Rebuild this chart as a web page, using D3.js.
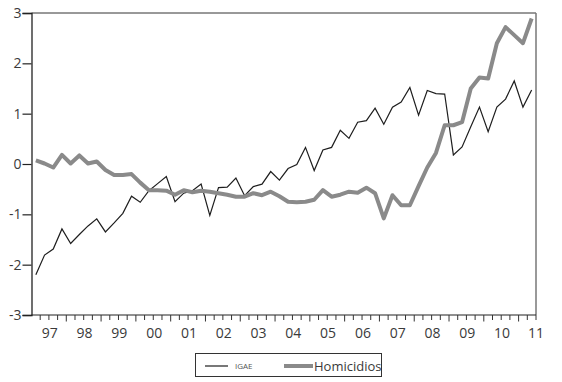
<!DOCTYPE html>
<html><head><meta charset="utf-8">
<script src="https://cdn.jsdelivr.net/npm/d3@7"></script>
<style>body{margin:0;background:#fff}</style></head>
<body><svg id="c" width="562" height="382"></svg>
<script>
const quarters = ["1997Q1","1997Q2","1997Q3","1997Q4","1998Q1","1998Q2","1998Q3","1998Q4",
"1999Q1","1999Q2","1999Q3","1999Q4","2000Q1","2000Q2","2000Q3","2000Q4",
"2001Q1","2001Q2","2001Q3","2001Q4","2002Q1","2002Q2","2002Q3","2002Q4",
"2003Q1","2003Q2","2003Q3","2003Q4","2004Q1","2004Q2","2004Q3","2004Q4",
"2005Q1","2005Q2","2005Q3","2005Q4","2006Q1","2006Q2","2006Q3","2006Q4",
"2007Q1","2007Q2","2007Q3","2007Q4","2008Q1","2008Q2","2008Q3","2008Q4",
"2009Q1","2009Q2","2009Q3","2009Q4","2010Q1","2010Q2","2010Q3","2010Q4",
"2011Q1","2011Q2"];
const igae = [-2.20,-1.81,-1.69,-1.29,-1.58,-1.40,-1.23,-1.09,-1.35,-1.17,-0.98,-0.64,-0.76,-0.53,-0.39,-0.25,
-0.75,-0.58,-0.53,-0.40,-1.02,-0.47,-0.46,-0.28,-0.63,-0.45,-0.40,-0.15,-0.32,-0.09,-0.01,0.33,
-0.13,0.28,0.33,0.67,0.51,0.83,0.86,1.11,0.79,1.13,1.23,1.52,0.97,1.46,1.40,1.39,
0.18,0.34,0.74,1.13,0.64,1.13,1.29,1.65,1.13,1.47];
const homicidios = [0.07,0.01,-0.07,0.18,0.01,0.17,0.01,0.05,-0.12,-0.22,-0.22,-0.20,-0.37,-0.52,-0.52,-0.53,
-0.61,-0.52,-0.56,-0.53,-0.55,-0.58,-0.61,-0.65,-0.65,-0.58,-0.62,-0.55,-0.64,-0.75,-0.76,-0.75,
-0.71,-0.52,-0.65,-0.61,-0.55,-0.57,-0.47,-0.58,-1.08,-0.62,-0.82,-0.82,-0.44,-0.07,0.22,0.77,
0.77,0.83,1.50,1.72,1.70,2.40,2.72,2.56,2.40,2.89];
const yTicks = [-3,-2,-1,0,1,2,3];
const yearLabels = ["97","98","99","00","01","02","03","04","05","06","07","08","09","10","11"];
const seriesNames = ["IGAE","Homicidios"];

const svg = d3.select("#c");
const L = 31.5, R = 536, T = 13, B = 315;
const x = d3.scaleLinear().domain([0, quarters.length]).range([L, R]);
const y = d3.scaleLinear().domain([-3, 3]).range([B, T]);
const font = "'Open Sans', sans-serif";

// frame top and right
svg.append("line").attr("x1", L).attr("x2", R).attr("y1", T).attr("y2", T)
  .attr("stroke", "#333").attr("stroke-width", 1);
svg.append("line").attr("x1", R).attr("x2", R).attr("y1", T).attr("y2", B)
  .attr("stroke", "#777").attr("stroke-width", 1.5);

// y axis
const ya = svg.append("g").attr("transform", `translate(${L},0)`)
  .call(d3.axisLeft(y).tickValues(yTicks).tickSize(9).tickPadding(1).tickFormat(d => String(d)));
ya.select(".domain").attr("stroke", "#222").attr("stroke-width", 1.3);
ya.selectAll(".tick line").attr("stroke", "#222").attr("stroke-width", 1.2);
ya.selectAll("text").attr("font-family", font).attr("font-size", 14).attr("fill", "#3a3a3a");

// x axis
const xg = svg.append("g");
xg.append("line").attr("x1", L).attr("x2", R).attr("y1", B).attr("y2", B)
  .attr("stroke", "#222").attr("stroke-width", 1.2);
xg.selectAll("line.t").data(d3.range(1, quarters.length + 1)).join("line").attr("class", "t")
  .attr("x1", d => x(d)).attr("x2", d => x(d))
  .attr("y1", B).attr("y2", d => B + (d % 4 === 0 ? 6.5 : 5))
  .attr("stroke", "#333").attr("stroke-width", 1);
xg.selectAll("text").data(yearLabels).join("text")
  .attr("x", (d, i) => x(Math.min(i * 4 + 2.1, quarters.length)))
  .attr("y", 337.5).attr("text-anchor", "middle")
  .attr("font-family", font).attr("font-size", 14).attr("fill", "#3a3a3a").text(d => d);

// lines
const line = d3.line().x((d, i) => x(i + 0.5)).y(d => y(d));
svg.append("path").datum(igae).attr("d", line).attr("fill", "none")
  .attr("stroke", "#1e1e1e").attr("stroke-width", 1.2).attr("stroke-linejoin", "miter");
svg.append("path").datum(homicidios).attr("d", line).attr("fill", "none")
  .attr("stroke", "#8a8a8a").attr("stroke-width", 4).attr("stroke-linejoin", "round");

// legend
const lg = svg.append("g");
lg.append("rect").attr("x", 195.5).attr("y", 353.5).attr("width", 186).attr("height", 23)
  .attr("fill", "none").attr("stroke", "#333").attr("stroke-width", 1);
lg.append("line").attr("x1", 205).attr("x2", 228).attr("y1", 366).attr("y2", 366)
  .attr("stroke", "#1e1e1e").attr("stroke-width", 1.2);
lg.append("text").attr("x", 235).attr("y", 369).attr("font-family", font).attr("font-size", 8)
  .attr("fill", "#555").text(seriesNames[0]);
lg.append("line").attr("x1", 284).attr("x2", 313).attr("y1", 366).attr("y2", 366)
  .attr("stroke", "#8a8a8a").attr("stroke-width", 4);
lg.append("text").attr("x", 314).attr("y", 370.5).attr("font-family", font).attr("font-size", 13)
  .attr("fill", "#3a3a3a").text(seriesNames[1]);
</script></body></html>
